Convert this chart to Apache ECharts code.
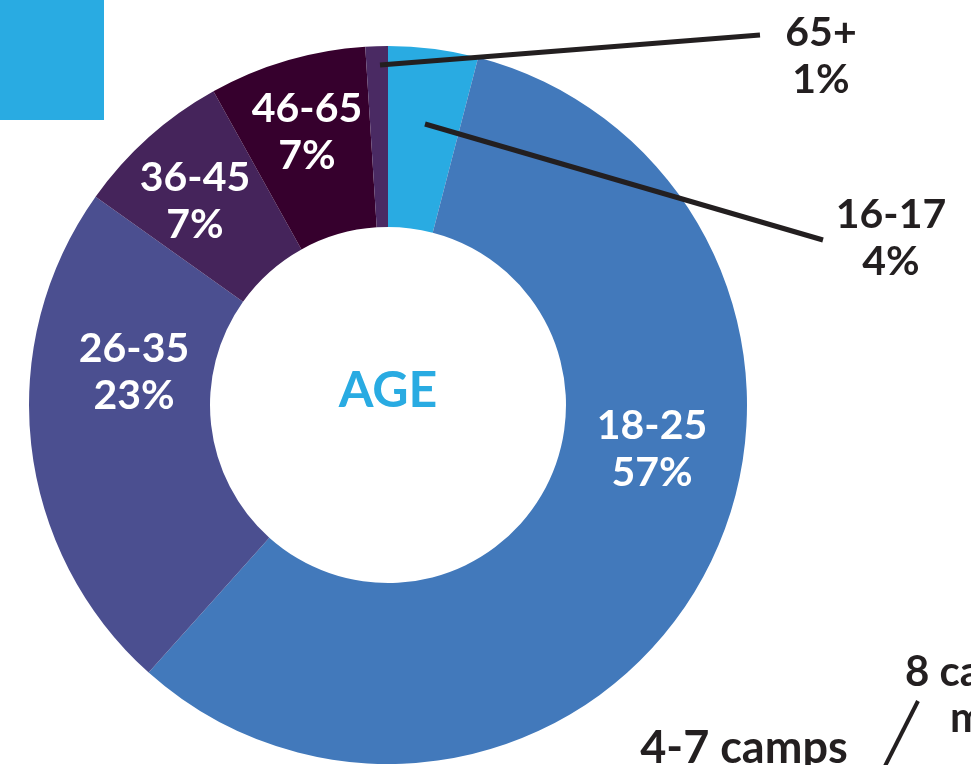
<!DOCTYPE html>
<html>
<head>
<meta charset="utf-8">
<script src="https://cdn.jsdelivr.net/npm/echarts@6/dist/echarts.min.js"></script>
<style>
html,body{margin:0;padding:0;background:#fff;overflow:hidden;}
#chart{width:971px;height:765px;}
</style>
</head>
<body>
<div id="chart"></div>
<script>
// ---- data ----
const categories = ['16-17', '18-25', '26-35', '36-45', '46-65', '65+'];
const shares = [4, 57, 23, 7, 7, 1];
const centerTitle = 'AGE';
const otherChartTexts = ['8 camps', 'or more', '4-7 camps'];

// ---- styling / layout ----
const colors = ['#29abe2', '#4279bb', '#4b4f90', '#45245b', '#36002d', '#4a2a63'];
const outsideItems = ['16-17', '65+'];
const CX = 388, CY = 405;
const labelLayoutPos = {
  '18-25': { x: 652, y: 449 },
  '26-35': { x: 134, y: 372 },
  '36-45': { x: 195, y: 201 },
  '46-65': { x: 307, y: 132 },
  '65+':   { x: 821, y: 56, line: [[380, 65], [570, 50], [760, 35]] },
  '16-17': { x: 891, y: 238, line: [[425, 124], [624, 182], [823, 240]] }
};
const FONT = 'Lato, "Open Sans", sans-serif';

const sliceData = categories.map((c, i) => ({
  name: c,
  value: shares[i],
  itemStyle: { color: colors[i] }
}));

const labelData = categories.map((c, i) => {
  const outside = outsideItems.includes(c);
  return {
    name: c,
    value: shares[i],
    itemStyle: { color: 'rgba(0,0,0,0)' },
    label: {
      show: true,
      position: outside ? 'outside' : 'inside',
      color: outside ? '#231f20' : '#ffffff'
    },
    labelLine: {
      show: outside,
      lineStyle: { color: '#231f20', width: 5 }
    }
  };
});

const pieBase = {
  type: 'pie',
  center: [CX, CY],
  radius: [178, 359],
  startAngle: 90,
  clockwise: true,
  avoidLabelOverlap: false,
  silent: true
};

const chart = echarts.init(document.getElementById('chart'), null, { renderer: 'canvas' });
chart.setOption({
  animation: false,
  backgroundColor: '#ffffff',
  series: [
    Object.assign({}, pieBase, {
      z: 2,
      itemStyle: { borderWidth: 0 },
      label: { show: false },
      labelLine: { show: false },
      data: sliceData
    }),
    Object.assign({}, pieBase, {
      z: 5,
      itemStyle: { borderWidth: 0 },
      label: {
        formatter: p => p.name + '\n' + p.value + '%',
        fontFamily: FONT,
        fontWeight: 'bold',
        fontSize: 41,
        lineHeight: 47,
        align: 'center'
      },
      labelLayout: function (params) {
        const name = categories[params.dataIndex];
        const p = labelLayoutPos[name];
        const o = { x: p.x, y: p.y, align: 'center', verticalAlign: 'middle' };
        if (p.line) o.labelLinePoints = p.line;
        return o;
      },
      data: labelData
    })
  ],
  graphic: [
    { type: 'rect', left: 0, top: 0, shape: { x: 0, y: 0, width: 104, height: 120 }, style: { fill: '#29abe2' }, silent: true },
    { type: 'text', x: CX, y: CY - 14, style: { text: centerTitle, fill: '#29abe2', font: 'bold 50px ' + FONT, textAlign: 'center', textVerticalAlign: 'middle' }, silent: true },
    { type: 'text', x: 905, y: 672, style: { text: otherChartTexts[0] + ' ' + otherChartTexts[1].split(' ')[0], fill: '#231f20', font: 'bold 42px ' + FONT, textAlign: 'left', textVerticalAlign: 'middle' }, silent: true },
    { type: 'text', x: 950, y: 718, style: { text: otherChartTexts[1].split(' ')[1], fill: '#231f20', font: 'bold 42px ' + FONT, textAlign: 'left', textVerticalAlign: 'middle' }, silent: true },
    { type: 'text', x: 744, y: 748, style: { text: otherChartTexts[2], fill: '#231f20', font: 'bold 45px ' + FONT, textAlign: 'center', textVerticalAlign: 'middle' }, silent: true },
    { type: 'line', shape: { x1: 918, y1: 701, x2: 883, y2: 770 }, style: { stroke: '#231f20', lineWidth: 4 }, silent: true }
  ]
});
</script>
</body>
</html>
